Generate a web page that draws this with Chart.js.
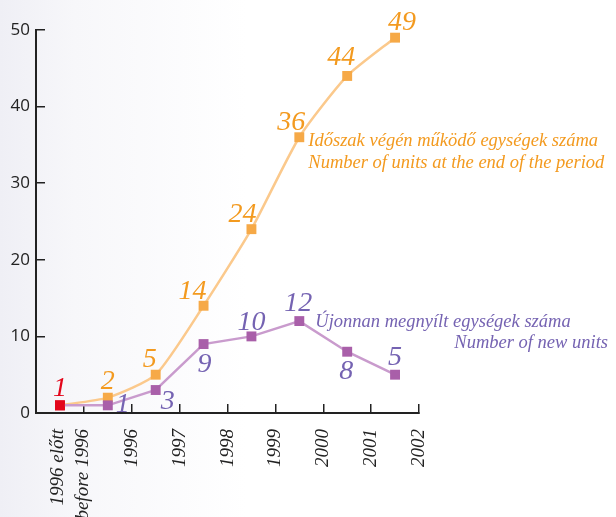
<!DOCTYPE html>
<html>
<head>
    <title>Egységek száma</title>
    <script src="https://cdn.jsdelivr.net/npm/chart.js@4.4.1/dist/chart.umd.min.js"></script>
    <style>
        html, body { margin: 0; padding: 0; }
        body {
            width: 616px; height: 517px; overflow: hidden;
            background: linear-gradient(90deg, #efeff5 0%, #f7f7fa 12%, #ffffff 40%);
        }
        #wrap { width: 616px; height: 517px; position: relative; }
    </style>
</head>
<body>
    <div id="wrap"><canvas id="units-chart"></canvas></div>

    <script>
        var periods = [['1996 előtt', 'before 1996'], '1996', '1997', '1998', '1999', '2000', '2001', '2002'];
        var unitsAtEnd = [1, 2, 5, 14, 24, 36, 44, 49];
        var newUnits = [1, 1, 3, 9, 10, 12, 8, 5];
        var yMax = 50;
        var yStep = 10;

        var orangeLabel = ['Időszak végén működő egységek száma', 'Number of units at the end of the period'];
        var purpleLabel = ['Újonnan megnyílt egységek száma', 'Number of new units'];

        var red = '#e3061b';
        var orangeText = '#f39a1f';
        var purpleText = '#7563b2';

        // where each value label sits relative to its point (px)
        var orangeOffsets = [[0, -17], [0, -16], [-6, -15], [-11, -14], [-9, -15], [-8, -15], [-6, -18], [7, -15]];
        var purpleOffsets = [null, [15, -1], [12, 12], [1, 21], [0, -14], [-1, -17], [-1, 20], [0, -17]];

        function firstRed(color) {
            return function(ctx) { return ctx.dataIndex === 0 ? red : color; };
        }

        // the two-line first label sits centred on its point, not on the tick
        var shiftFirstLabel = {
            id: 'shiftFirstLabel',
            beforeDraw: function(chart) {
                var items = chart.scales.x.getLabelItems();
                if (items.length && !items[0]._moved) {
                    items[0].options.translation[0] -= 26;
                    items[0]._moved = true;
                }
            }
        };

        var valueLabels = {
            id: 'valueLabels',
            afterDatasetsDraw: function(chart) {
                var c = chart.ctx;
                c.save();
                c.font = 'italic 28px "Liberation Serif"';
                c.textAlign = 'center';
                c.textBaseline = 'middle';
                [[1, unitsAtEnd, orangeOffsets, orangeText], [0, newUnits, purpleOffsets, purpleText]].forEach(function(s) {
                    var meta = chart.getDatasetMeta(s[0]);
                    meta.data.forEach(function(pt, i) {
                        var off = s[2][i];
                        if (!off) return;
                        c.fillStyle = i === 0 ? red : s[3];
                        c.fillText(String(s[1][i]), pt.x + off[0], pt.y + off[1]);
                    });
                });

                // series captions next to the 1999 points
                c.font = 'italic 18.5px "Liberation Serif"';
                c.textAlign = 'left';
                var o = chart.getDatasetMeta(1).data[5];
                c.fillStyle = orangeText;
                c.fillText(orangeLabel[0], o.x + 9, o.y + 4);
                c.fillText(orangeLabel[1], o.x + 9, o.y + 26);

                var p = chart.getDatasetMeta(0).data[5];
                c.fillStyle = purpleText;
                c.fillText(purpleLabel[0], p.x + 16, p.y + 1);
                c.textAlign = 'right';
                c.fillText(purpleLabel[1], chart.width - 8, p.y + 22);
                c.restore();
            }
        };

        var ctx = document.getElementById('units-chart').getContext('2d');
        var unitsChart = new Chart(ctx, {
            type: 'line',
            data: {
                labels: periods,
                datasets: [{
                    label: purpleLabel[1],
                    data: newUnits,
                    order: 0,
                    borderColor: '#c99bcd',
                    borderWidth: 2.5,
                    tension: 0,
                    pointStyle: 'rect',
                    pointRadius: 7,
                    pointBorderWidth: 0,
                    pointBackgroundColor: firstRed('#a95fa9'),
                    pointBorderColor: firstRed('#a95fa9')
                }, {
                    label: orangeLabel[1],
                    data: unitsAtEnd,
                    order: 1,
                    borderColor: '#fbc98c',
                    borderWidth: 2.5,
                    tension: 0.2,
                    pointStyle: 'rect',
                    pointRadius: 7,
                    pointBorderWidth: 0,
                    pointBackgroundColor: firstRed('#f6a947'),
                    pointBorderColor: firstRed('#f6a947')
                }]
            },
            options: {
                responsive: true,
                maintainAspectRatio: false,
                animation: false,
                layout: { padding: { top: 30, right: 197, left: 0, bottom: 0 } },
                scales: {
                    x: {
                        offset: true,
                        afterFit: function(scale) { scale.height = 104; },
                        grid: { offset: true, drawOnChartArea: false, tickLength: -9, color: '#222', lineWidth: 1.5 },
                        border: { color: '#222', width: 2 },
                        ticks: {
                            autoSkip: false,
                            minRotation: 90,
                            maxRotation: 90,
                            labelOffset: 24,
                            padding: 25,
                            color: '#222',
                            font: { family: '"Liberation Serif"', style: 'italic', size: 19, lineHeight: 1.3 }
                        }
                    },
                    y: {
                        min: 0,
                        max: yMax,
                        afterFit: function(scale) { scale.width = 36; },
                        grid: { drawOnChartArea: false, tickLength: -9, color: '#222', lineWidth: 1.5 },
                        border: { color: '#222', width: 2 },
                        ticks: {
                            stepSize: yStep,
                            padding: 15,
                            color: '#222',
                            font: { family: '"Open Sans"', size: 17 }
                        }
                    }
                },
                plugins: {
                    legend: { display: false },
                    tooltip: { enabled: false }
                }
            },
            plugins: [shiftFirstLabel, valueLabels]
        });
    </script>
</body>
</html>
